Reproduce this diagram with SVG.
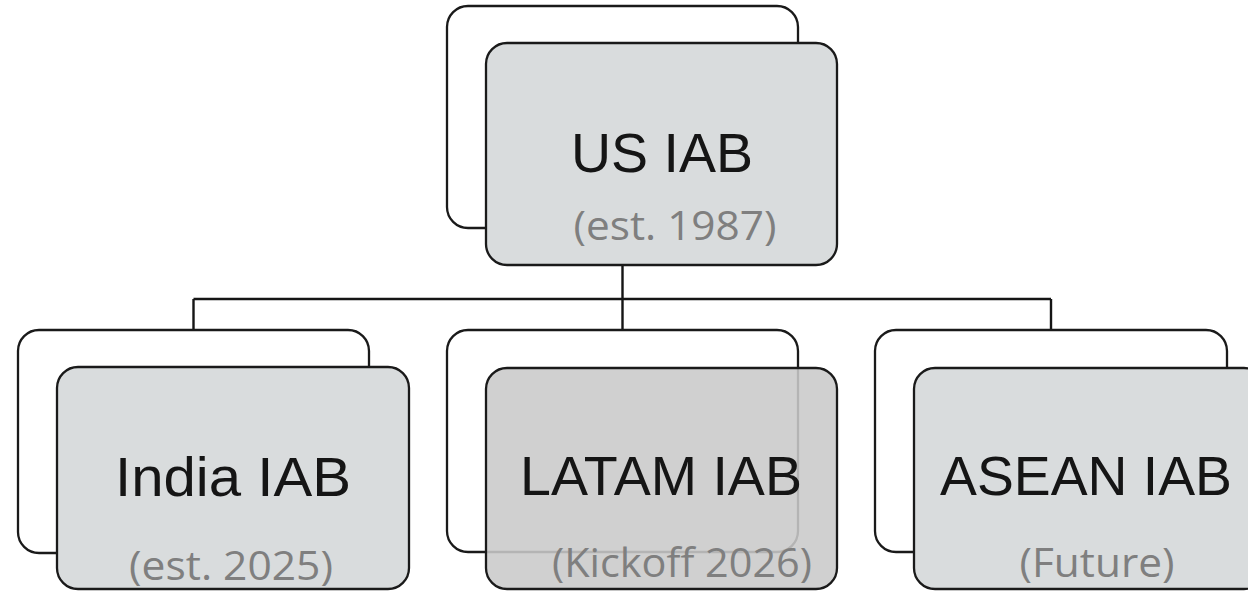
<svg xmlns="http://www.w3.org/2000/svg" width="1248" height="591" viewBox="0 0 1248 591">
<style>
.back{fill:#ffffff;stroke:#1a1a1a;stroke-width:2.3}
.front{fill:#d9dcdd;stroke:#1a1a1a;stroke-width:2.3}
.front-t{fill:#c9c9c9;fill-opacity:0.88;stroke:#1a1a1a;stroke-width:2.3}
.conn{fill:none;stroke:#151515;stroke-width:2.4}
.main{font-family:"Liberation Sans",Arial,sans-serif;font-size:56px;fill:#151515;text-anchor:middle}
.sub{font-family:"Open Sans","Noto Sans",sans-serif;font-size:41px;fill:#7f7f7f;text-anchor:middle}
</style>
<rect width="1248" height="591" fill="#ffffff"/>
<g id="connectors">
<path class="conn" d="M622.5,265 V330 M193.5,299 H1051 M193.5,299 V330 M1051,299 V330"/>
</g>
<g id="us-iab">
<rect class="back" x="447" y="6" width="351" height="222" rx="21"/>
<rect class="front" x="486" y="43" width="351" height="222" rx="21"/>
<text class="main" x="662" y="172" textLength="182" lengthAdjust="spacingAndGlyphs">US IAB</text>
<text class="sub" x="675" y="240" textLength="203" lengthAdjust="spacingAndGlyphs">(est. 1987)</text>
</g>
<g id="india-iab">
<rect class="back" x="18" y="330" width="351" height="223" rx="21"/>
<rect class="front" x="57" y="367" width="352" height="222" rx="21"/>
<text class="main" x="233" y="496" textLength="236" lengthAdjust="spacingAndGlyphs">India IAB</text>
<text class="sub" x="231" y="580" textLength="204" lengthAdjust="spacingAndGlyphs">(est. 2025)</text>
</g>
<g id="latam-iab">
<rect class="back" x="447" y="330" width="351" height="222" rx="21"/>
<rect class="front-t" x="486" y="368" width="351" height="221" rx="21"/>
<text class="main" x="661" y="495" textLength="282" lengthAdjust="spacingAndGlyphs">LATAM IAB</text>
<text class="sub" x="682" y="577" textLength="260" lengthAdjust="spacingAndGlyphs">(Kickoff 2026)</text>
</g>
<g id="asean-iab">
<rect class="back" x="875" y="330" width="352" height="222" rx="21"/>
<rect class="front" x="914" y="368" width="351" height="221" rx="21"/>
<text class="main" x="1086" y="495" textLength="292" lengthAdjust="spacingAndGlyphs">ASEAN IAB</text>
<text class="sub" x="1097" y="577" textLength="155" lengthAdjust="spacingAndGlyphs">(Future)</text>
</g>
</svg>
